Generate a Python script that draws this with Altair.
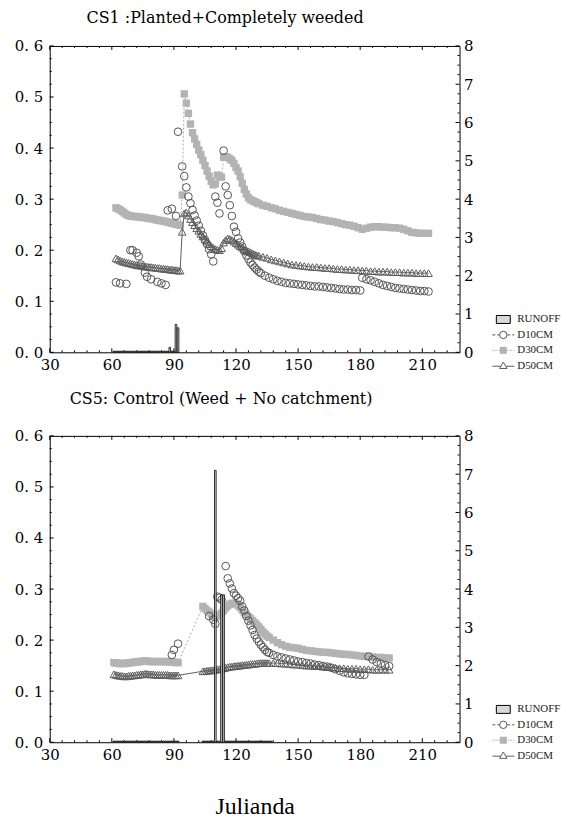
import altair as alt
import pandas as pd

# ---------------------------------------------------------------------------
# Axis layout
# ---------------------------------------------------------------------------
X_DOMAIN = [30, 228]
Y_DOMAIN = [0, 0.6]
R_DOMAIN = [0, 8]
W, H = 412, 308
LABEL_FONT = "DejaVu Serif"

x_major = [30, 60, 90, 120, 150, 180, 210]
x_minor = [36, 42, 48, 54, 66, 72, 78, 84, 96, 102, 108, 114, 126, 132, 138, 144,
           156, 162, 168, 174, 186, 192, 198, 204, 216, 222]
y_major = [0.0, 0.1, 0.2, 0.3, 0.4, 0.5, 0.6]
y_minor = [0.025, 0.05, 0.075, 0.125, 0.15, 0.175, 0.225, 0.25, 0.275, 0.325, 0.35,
           0.375, 0.425, 0.45, 0.475, 0.525, 0.55, 0.575]
r_major = [0, 1, 2, 3, 4, 5, 6, 7, 8]
r_minor = [0.25, 0.5, 0.75, 1.25, 1.5, 1.75, 2.25, 2.5, 2.75, 3.25, 3.5, 3.75,
           4.25, 4.5, 4.75, 5.25, 5.5, 5.75, 6.25, 6.5, 6.75, 7.25, 7.5, 7.75]

# ---------------------------------------------------------------------------
# CS1 : Planted + completely weeded  (soil moisture, left axis; runoff, right)
# ---------------------------------------------------------------------------
cs1_days = [
    62, 63, 64, 65, 66, 67, 68, 69, 70, 71,
    72, 73, 74, 75, 76, 77, 78, 79, 80, 81,
    82, 83, 84, 85, 86, 87, 88, 89, 90, 91,
    92, 93, 94, 95, 96, 97, 98, 99, 100, 101,
    102, 103, 104, 105, 106, 107, 108, 109, 110, 111,
    112, 113, 114, 115, 116, 117, 118, 119, 120, 121,
    122, 123, 124, 125, 126, 127, 128, 129, 130, 131,
    133, 135, 137, 139, 141, 143, 145, 147, 149, 151,
    153, 155, 157, 159, 161, 163, 165, 167, 169, 171,
    173, 175, 177, 179, 181, 183, 185, 187, 189, 191,
    193, 195, 197, 199, 201, 203, 205, 207, 209, 211,
    213]
cs1_d30 = [
    .283, .281, .279, .276, .273, .270, .268, .267, .266, .266,
    .266, .265, .265, .264, .264, .263, .262, .262, .261, .260,
    .259, .258, .258, .257, .256, .255, .254, .253, .252, .251,
    .250, .249, .308, .506, .488, .468, .447, .430, .418, .407,
    .396, .387, .376, .366, .355, .345, .335, .328, .330, .347,
    .345, .343, .382, .383, .382, .379, .376, .370, .362, .355,
    .344, .331, .319, .310, .303, .299, .297, .295, .293, .291,
    .288, .286, .283, .281, .278, .276, .274, .272, .270, .268,
    .266, .265, .264, .262, .260, .259, .257, .256, .254, .252,
    .250, .249, .247, .244, .241, .243, .245, .246, .246, .245,
    .245, .244, .244, .243, .241, .238, .235, .234, .233, .233,
    .233]
cs1_d50 = [
    .184, .182, .180, .178, .177, .176, .175, .174, .173, .172,
    .171, .170, .170, .169, .168, .168, .167, .167, .166, .166,
    .165, .165, .164, .164, .163, .163, .162, .162, .161, .161,
    .160, .160, .236, .272, .274, .268, .261, .255, .249, .243,
    .238, .232, .227, .222, .217, .212, .208, .205, .202, .201,
    .200, .204, .215, .220, .223, .222, .220, .217, .214, .211,
    .208, .205, .202, .200, .198, .196, .194, .192, .190, .189,
    .187, .185, .182, .180, .178, .176, .174, .172, .171, .170,
    .169, .168, .167, .167, .166, .165, .165, .164, .163, .163,
    .162, .162, .161, .161, .160, .160, .159, .159, .158, .158,
    .158, .157, .157, .157, .156, .156, .156, .155, .155, .155,
    .155]
cs1_d10_day = [
    62, 64, 67, 69, 70, 72, 73, 74, 76, 77,
    79, 82, 84, 86, 87, 89, 91, 92, 94, 95,
    96, 97, 98, 99, 100, 101, 102, 103, 104, 105,
    106, 107, 108, 109, 110, 111, 112, 114, 115, 116,
    117, 118, 119, 120, 121, 122, 123, 124, 125, 126,
    127, 128, 129, 130, 131, 132, 134, 136, 138, 140,
    142, 144, 146, 148, 150, 152, 154, 156, 158, 160,
    162, 164, 166, 168, 170, 172, 174, 176, 178, 180,
    181, 183, 185, 187, 189, 191, 193, 195, 197, 199,
    201, 203, 205, 207, 209, 211, 213]
cs1_d10 = [
    .137, .135, .134, .200, .200, .195, .188, .172, .156, .148,
    .143, .138, .135, .132, .278, .281, .267, .432, .364, .345,
    .323, .305, .292, .279, .268, .258, .248, .238, .229, .220,
    .212, .202, .192, .178, .305, .293, .272, .395, .325, .308,
    .288, .267, .246, .236, .223, .215, .207, .198, .190, .183,
    .176, .171, .166, .162, .158, .155, .150, .146, .143, .140,
    .138, .136, .135, .134, .133, .132, .131, .130, .129, .129,
    .128, .127, .126, .125, .124, .123, .123, .122, .122, .121,
    .146, .143, .141, .138, .135, .132, .130, .128, .126, .125,
    .124, .123, .122, .121, .120, .120, .119]
cs1_runoff_day = [
    61, 62, 63, 64, 65, 66, 67, 68, 69, 70,
    71, 72, 73, 74, 75, 76, 77, 78, 79, 80,
    81, 82, 83, 84, 85, 86, 87, 88, 89, 90,
    91, 92]
cs1_runoff = [
    .03, .03, .03, .03, .03, .03, .03, .03, .03, .03,
    .03, .03, .03, .03, .03, .03, .03, .03, .03, .03,
    .03, .03, .03, .03, .03, .03, .03, .13, .03, .03,
    .73, .64]

# ---------------------------------------------------------------------------
# CS5 : Control (weed + no catchment)
# ---------------------------------------------------------------------------
cs5_days = [
    61, 62, 63, 64, 65, 66, 67, 68, 69, 70,
    71, 72, 73, 74, 75, 76, 77, 78, 79, 80,
    81, 82, 83, 84, 85, 86, 87, 88, 89, 90,
    91, 92, 104, 105, 106, 107, 108, 109, 110, 111,
    112, 113, 114, 115, 116, 117, 118, 119, 120, 121,
    122, 123, 124, 125, 126, 127, 128, 129, 130, 131,
    132, 133, 134, 135, 136, 138, 140, 142, 144, 146,
    148, 150, 152, 154, 156, 158, 160, 162, 164, 166,
    168, 170, 172, 174, 176, 178, 180, 182, 184, 186,
    188, 190, 192, 194]
cs5_d30 = [
    .156, .155, .155, .154, .154, .154, .155, .155, .156, .156,
    .157, .157, .158, .158, .159, .159, .159, .158, .158, .158,
    .158, .158, .158, .158, .158, .158, .158, .157, .157, .157,
    .156, .156, .266, .262, .258, .255, .251, .248, .246, .247,
    .249, .253, .258, .263, .267, .270, .272, .272, .271, .268,
    .264, .259, .254, .250, .246, .242, .238, .234, .230, .226,
    .221, .216, .212, .208, .205, .200, .195, .191, .188, .186,
    .185, .184, .182, .180, .179, .178, .177, .176, .176, .175,
    .174, .173, .172, .172, .171, .170, .169, .168, .168, .167,
    .166, .166, .165, .165]
cs5_d50 = [
    .133, .132, .131, .130, .130, .129, .129, .130, .130, .131,
    .131, .132, .132, .133, .133, .134, .134, .133, .133, .133,
    .132, .132, .132, .132, .132, .132, .132, .131, .131, .131,
    .131, .131, .139, .139, .140, .140, .141, .141, .142, .143,
    .143, .144, .145, .146, .147, .148, .148, .149, .149, .150,
    .150, .151, .151, .152, .152, .153, .153, .154, .154, .155,
    .155, .155, .155, .155, .155, .155, .155, .154, .154, .153,
    .152, .152, .151, .150, .150, .149, .149, .148, .147, .147,
    .146, .145, .145, .144, .144, .144, .143, .143, .143, .142,
    .142, .142, .142, .142]
cs5_d10_day = [
    89, 90, 92, 107, 109, 110, 111, 112, 113, 115,
    116, 117, 118, 119, 120, 121, 122, 123, 124, 125,
    126, 127, 128, 129, 130, 131, 132, 133, 134, 135,
    136, 138, 140, 142, 144, 146, 148, 150, 152, 154,
    156, 158, 160, 162, 164, 166, 168, 170, 172, 174,
    176, 178, 180, 182, 184, 186, 188, 190, 192, 194]
cs5_d10 = [
    .171, .181, .193, .247, .240, .232, .285, .283, .279, .345,
    .321, .311, .301, .292, .287, .282, .277, .266, .258, .247,
    .238, .229, .220, .210, .203, .197, .191, .186, .181, .177,
    .175, .171, .168, .166, .164, .162, .160, .158, .157, .155,
    .154, .152, .151, .149, .148, .146, .143, .140, .137, .135,
    .134, .133, .132, .132, .168, .162, .157, .154, .151, .149]
cs5_runoff_day = [
    61, 62, 63, 64, 65, 66, 67, 68, 69, 70,
    71, 72, 73, 74, 75, 76, 77, 78, 79, 80,
    81, 82, 83, 84, 85, 86, 87, 88, 89, 90,
    91, 92, 104, 105, 106, 107, 108, 109, 110, 111,
    112, 113, 114, 115, 116, 117, 118, 119, 120, 121,
    122, 123, 124, 125, 126, 127, 128, 129, 130, 131,
    132, 133, 134, 135, 136, 137]
cs5_runoff = [
    .03, .03, .03, .03, .03, .03, .03, .03, .03, .03,
    .03, .03, .03, .03, .03, .03, .03, .03, .03, .03,
    .03, .03, .03, .03, .03, .03, .03, .03, .03, .03,
    .03, .03, .03, .03, .03, .03, .03, .03, 7.10, .03,
    .03, 3.85, 3.85, .03, .03, .03, .03, .03, .03, .03,
    .03, .03, .03, .03, .03, .03, .03, .03, .03, .03,
    .03, .03, .03, .03, .03, .03]

legend_labels = ["RUNOFF", "D10CM", "D30CM", "D50CM"]

# ---------------------------------------------------------------------------
# Styling
# ---------------------------------------------------------------------------
C10 = "#555555"
C30 = "#b3b3b3"
C50 = "#5e5e5e"
BAR_HALF = 0.4           # half width of a daily runoff bar, in days
LEG_ROWS = [275, 290.5, 306, 322]
LEG_X0, LEG_X1, LEG_SYM, LEG_TXT = 445, 467, 456, 470


def label_axis(**kw):
    base = dict(ticks=False, domain=False, grid=False, labelFont=LABEL_FONT,
                labelFontSize=15, labelColor="black", title=None)
    base.update(kw)
    return alt.Axis(**base)


def legend_layers():
    def one(text):
        return alt.Chart(pd.DataFrame({"label": [text]}))

    r0, r1, r2, r3 = LEG_ROWS
    layers = [
        one("RUNOFF").mark_rect(fill="#d9d9d9", stroke="black", strokeWidth=1).encode(
            x=alt.value(LEG_SYM - 7), x2=alt.value(LEG_SYM + 7),
            y=alt.value(r0 - 4), y2=alt.value(r0 + 4)),
        one("D10CM").mark_rule(color=C10, strokeWidth=1, strokeDash=[3, 2]).encode(
            x=alt.value(LEG_X0), x2=alt.value(LEG_X1), y=alt.value(r1)),
        one("D10CM").mark_point(shape="circle", size=55, filled=False, color=C10,
                                strokeWidth=1, fill="white", fillOpacity=1).encode(
            x=alt.value(LEG_SYM), y=alt.value(r1)),
        one("D30CM").mark_rule(color="#aaaaaa", strokeWidth=1, strokeDash=[1.5, 1.5]).encode(
            x=alt.value(LEG_X0), x2=alt.value(LEG_X1), y=alt.value(r2)),
        one("D30CM").mark_square(size=50, color=C30, opacity=1).encode(
            x=alt.value(LEG_SYM), y=alt.value(r2)),
        one("D50CM").mark_rule(color=C50, strokeWidth=1).encode(
            x=alt.value(LEG_X0), x2=alt.value(LEG_X1), y=alt.value(r3)),
        one("D50CM").mark_point(shape="triangle-up", size=55, filled=False, color=C50,
                                strokeWidth=1, fill="white", fillOpacity=1).encode(
            x=alt.value(LEG_SYM), y=alt.value(r3 - 1)),
    ]
    for text, row in zip(legend_labels, LEG_ROWS):
        layers.append(
            one(text).mark_text(align="left", baseline="middle", font="Liberation Serif",
                                fontSize=11, color="#222222").encode(
                x=alt.value(LEG_TXT), y=alt.value(row), text="label:N"))
    return alt.layer(*layers)


def panel(title, title_dx, title_offset, d10_day, d10, days, d30, d50,
          ro_day, ro, x_title=None):
    xs = alt.Scale(domain=X_DOMAIN, nice=False, zero=False)
    ys = alt.Scale(domain=Y_DOMAIN, nice=False, zero=False)
    rs = alt.Scale(domain=R_DOMAIN, nice=False, zero=False)

    x_kw = dict(values=x_major, format="d", labelPadding=5, labelFlush=False)
    if x_title:
        x_kw.update(title=x_title, titleFont="Liberation Serif", titleFontSize=24,
                    titleFontWeight="normal", titleColor="black", titlePadding=33)
    x_axis = label_axis(**x_kw)
    y_axis = label_axis(values=y_major, labelPadding=7,
                        labelExpr="replace(format(datum.value, '.1f'), '.', '. ')")
    r_axis = label_axis(values=r_major, orient="right", labelPadding=4)

    X = alt.X("day:Q", scale=xs, axis=x_axis)
    Y = alt.Y("v:Q", scale=ys, axis=y_axis)
    R = alt.Y("mm:Q", scale=rs, axis=r_axis)

    moist30 = pd.DataFrame({"day": days, "v": d30})
    moist50 = pd.DataFrame({"day": days, "v": d50})
    moist10 = pd.DataFrame({"day": d10_day, "v": d10})
    runoff = pd.DataFrame({"day": ro_day, "mm": ro})
    runoff["day_end"] = runoff["day"] + BAR_HALF
    runoff["day"] = runoff["day"] - BAR_HALF

    d30_line = alt.Chart(moist30).mark_line(color="#aaaaaa", strokeWidth=1,
                                             strokeDash=[2, 2]).encode(x=X, y=Y)
    d30_pts = alt.Chart(moist30).mark_square(size=55, color=C30, opacity=1).encode(x=X, y=Y)
    d50_line = alt.Chart(moist50).mark_line(color=C50, strokeWidth=1).encode(x=X, y=Y)
    d50_pts = alt.Chart(moist50).mark_point(shape="triangle-up", size=60, filled=False,
                                            color=C50, strokeWidth=1, opacity=1).encode(x=X, y=Y)
    d10_pts = alt.Chart(moist10).mark_point(shape="circle", size=60, filled=False,
                                            color=C10, strokeWidth=1, opacity=1).encode(x=X, y=Y)

    # inward tick marks on all four sides of the frame
    xmaj = alt.Chart(pd.DataFrame({"day": x_major}))
    xmin = alt.Chart(pd.DataFrame({"day": x_minor}))
    ticks_x = [
        xmaj.mark_rule(color="black").encode(x=X, y=alt.value(H), y2=alt.value(H - 4)),
        xmaj.mark_rule(color="black").encode(x=X, y=alt.value(0), y2=alt.value(4)),
        xmin.mark_rule(color="black").encode(x=X, y=alt.value(H), y2=alt.value(H - 2)),
        xmin.mark_rule(color="black").encode(x=X, y=alt.value(0), y2=alt.value(2)),
    ]
    ticks_y = [
        alt.Chart(pd.DataFrame({"v": y_major})).mark_rule(color="black").encode(
            y=Y, x=alt.value(0), x2=alt.value(4)),
        alt.Chart(pd.DataFrame({"v": y_minor})).mark_rule(color="black").encode(
            y=Y, x=alt.value(0), x2=alt.value(2)),
    ]
    ticks_r = [
        alt.Chart(pd.DataFrame({"mm": r_major})).mark_rule(color="black").encode(
            y=R, x=alt.value(W), x2=alt.value(W - 4)),
        alt.Chart(pd.DataFrame({"mm": r_minor})).mark_rule(color="black").encode(
            y=R, x=alt.value(W), x2=alt.value(W - 2)),
    ]

    left = alt.layer(d30_line, d30_pts, d50_line, d50_pts, d10_pts, *ticks_x, *ticks_y)

    bars = alt.Chart(runoff).mark_bar(fill="#d9d9d9", stroke="black",
                                      strokeWidth=0.8).encode(
        x=X, x2=alt.X2("day_end"), y=R, y2=alt.datum(0))
    right = alt.layer(bars, *ticks_r)

    return alt.layer(left, right, legend_layers()).resolve_scale(
        y="independent").properties(
        width=W, height=H,
        title=alt.TitleParams(text=title, font=LABEL_FONT, fontSize=16,
                              fontWeight="normal", color="black", anchor="start",
                              frame="group", dx=title_dx, offset=title_offset,
                              baseline="alphabetic"))


top = panel("CS1 :Planted+Completely weeded", 37, 0,
            cs1_d10_day, cs1_d10, cs1_days, cs1_d30, cs1_d50,
            cs1_runoff_day, cs1_runoff)
bottom = panel("CS5: Control (Weed + No catchment)", 20, 9,
               cs5_d10_day, cs5_d10, cs5_days, cs5_d30, cs5_d50,
               cs5_runoff_day, cs5_runoff, x_title="Julianda")

chart = alt.vconcat(top, bottom, spacing=17).configure_view(
    stroke="black", strokeWidth=1).properties(
    padding={"left": 13, "top": 7, "right": 0, "bottom": 0},
    background="white")

chart.save("out.html", embed_options={"renderer": "svg", "actions": False})
